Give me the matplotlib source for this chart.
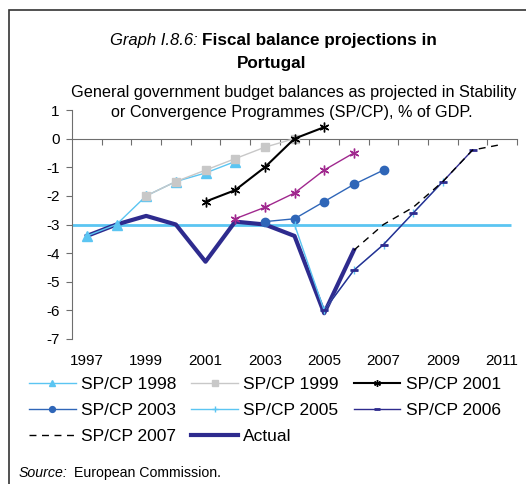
import numpy as np
import matplotlib.pyplot as plt
from matplotlib.patches import Rectangle

plt.rcParams['font.family'] = ['Liberation Sans', 'DejaVu Sans']
plt.rcParams['axes.unicode_minus'] = False

# data (% of GDP)
yrs_98 = [1997, 1998, 1999, 2000, 2001, 2002]
sp_98 = [-3.4, -3.0, -2.0, -1.5, -1.2, -0.8]
yrs_99 = [1999, 2000, 2001, 2002, 2003, 2004]
sp_99 = [-2.0, -1.5, -1.1, -0.7, -0.3, 0.0]
yrs_01 = [2001, 2002, 2003, 2004, 2005]
sp_01 = [-2.2, -1.8, -1.0, 0.0, 0.4]
yrs_02 = [2002, 2003, 2004, 2005, 2006]
sp_02 = [-2.8, -2.4, -1.9, -1.1, -0.5]
yrs_03 = [2003, 2004, 2005, 2006, 2007]
sp_03 = [-2.9, -2.8, -2.2, -1.6, -1.1]
yrs_05 = [2004, 2005, 2006, 2007, 2008, 2009]
sp_05 = [-3.0, -6.0, -4.6, -3.7, -2.6, -1.5]
yrs_06 = [2005, 2006, 2007, 2008, 2009, 2010]
sp_06 = [-6.0, -4.6, -3.7, -2.6, -1.5, -0.4]
yrs_07 = [2006, 2007, 2008, 2009, 2010, 2011]
sp_07 = [-3.9, -3.0, -2.4, -1.5, -0.4, -0.2]
yrs_act = [1997, 1998, 1999, 2000, 2001, 2002, 2003, 2004, 2005, 2006]
actual = [-3.4, -3.0, -2.7, -3.0, -4.3, -2.9, -3.0, -3.4, -6.1, -3.9]
threshold = -3.0
year_labels = [1997, 1999, 2001, 2003, 2005, 2007, 2009, 2011]

navy = '#2E2B8E'
light = '#5BC5F2'
grey_ax = '#6E6E6E'

fig = plt.figure(figsize=(5.26, 4.84), dpi=100)
ax = fig.add_axes([72 / 526, 1 - 339 / 484, 445 / 526, 229 / 484])

ax.hlines(threshold, 1996.5, 2011.3, color=light, lw=2, zorder=1)
ax.plot(yrs_act, actual, color=navy, lw=3, label='Actual', zorder=2)
ax.plot(yrs_98, sp_98, color=light, lw=1, marker='^', ms=7, label='SP/CP 1998', zorder=3)
ax.plot(yrs_99, sp_99, color='#C8C8C8', lw=1, marker='s', ms=6, label='SP/CP 1999', zorder=3)
ax.plot(yrs_01, sp_01, color='black', lw=1.5, marker=(6, 2, 0), ms=7, mew=1, label='SP/CP 2001', zorder=3)
ax.plot(yrs_02, sp_02, color='#A0288E', lw=1, marker=(6, 2, 0), ms=7, mew=1, zorder=3)
ax.plot(yrs_03, sp_03, color='#2F66B8', lw=1, marker='o', ms=6, label='SP/CP 2003', zorder=3)
ax.plot(yrs_05, sp_05, color=light, lw=1, marker='+', ms=6, label='SP/CP 2005', zorder=3)
ax.plot(yrs_06, sp_06, color=navy, lw=1, marker='_', ms=6, mew=2, label='SP/CP 2006', zorder=3)
ax.plot(yrs_07, sp_07, color='black', lw=1, ls=(0, (5, 4)), label='SP/CP 2007', zorder=3)

ax.set_xlim(1996.5, 2011.5)
ax.set_ylim(-7, 1)
ax.set_yticks(np.arange(-7, 2, 1))
ax.set_xticks(np.arange(1997.5, 2012, 1))
ax.set_xticklabels([])
ax.tick_params(axis='both', direction='out', length=4, color=grey_ax, labelsize=11, pad=3)
ax.tick_params(axis='y', pad=5)
for s in ['top', 'right']:
    ax.spines[s].set_visible(False)
ax.spines['bottom'].set_position(('data', 0))
for s in ['bottom', 'left']:
    ax.spines[s].set_color(grey_ax)

lab = ax.secondary_xaxis('bottom')
lab.set_xticks(year_labels)
lab.tick_params(length=0, labelsize=11, pad=11)
lab.spines['bottom'].set_visible(False)

handles, labels = ax.get_legend_handles_labels()
order = ['SP/CP 1998', 'SP/CP 1999', 'SP/CP 2001', 'SP/CP 2003', 'SP/CP 2005',
         'SP/CP 2006', 'SP/CP 2007', 'Actual']
hmap = dict(zip(labels, handles))
# fill row by row like the reference
rows = [order[i:i + 3] for i in range(0, len(order), 3)]
cols = [[r[c] for r in rows if c < len(r)] for c in range(3)]
flat = [name for col in cols for name in col]
fig.legend([hmap[n] for n in flat], flat, ncol=3, loc='upper left',
           bbox_to_anchor=(29 / 526, 1 - 377 / 484), frameon=False, fontsize=12.5,
           handlelength=2.7, handletextpad=0.3, columnspacing=0.85, labelspacing=0.62,
           borderaxespad=0, borderpad=0, markerscale=0.7)

fig.text(198 / 526, 1 - 41 / 484, 'Graph I.8.6:', fontsize=12, style='italic', va='center', ha='right')
fig.text(202 / 526, 1 - 41 / 484, 'Fiscal balance projections in', fontsize=12.3, weight='bold', va='center')
fig.text(272 / 526, 1 - 63 / 484, 'Portugal', fontsize=12.3, weight='bold', va='center', ha='center')
fig.text(294 / 526, 1 - 93 / 484, 'General government budget balances as projected in Stability',
         fontsize=11.7, ha='center', va='center')
fig.text(292 / 526, 1 - 113 / 484, 'or Convergence Programmes (SP/CP), % of GDP.',
         fontsize=11.7, ha='center', va='center')
fig.text(19 / 526, 1 - 473 / 484, 'Source:', fontsize=10.2, style='italic', va='center')
fig.text(74 / 526, 1 - 473 / 484, 'European Commission.', fontsize=10.2, va='center')

fig.patches.append(Rectangle((9 / 526, -0.05), 1.1, 1 - 10 / 484 + 0.05, transform=fig.transFigure,
                             fill=False, edgecolor='#333333', lw=1.2))

fig.savefig('out.png', dpi=100)
